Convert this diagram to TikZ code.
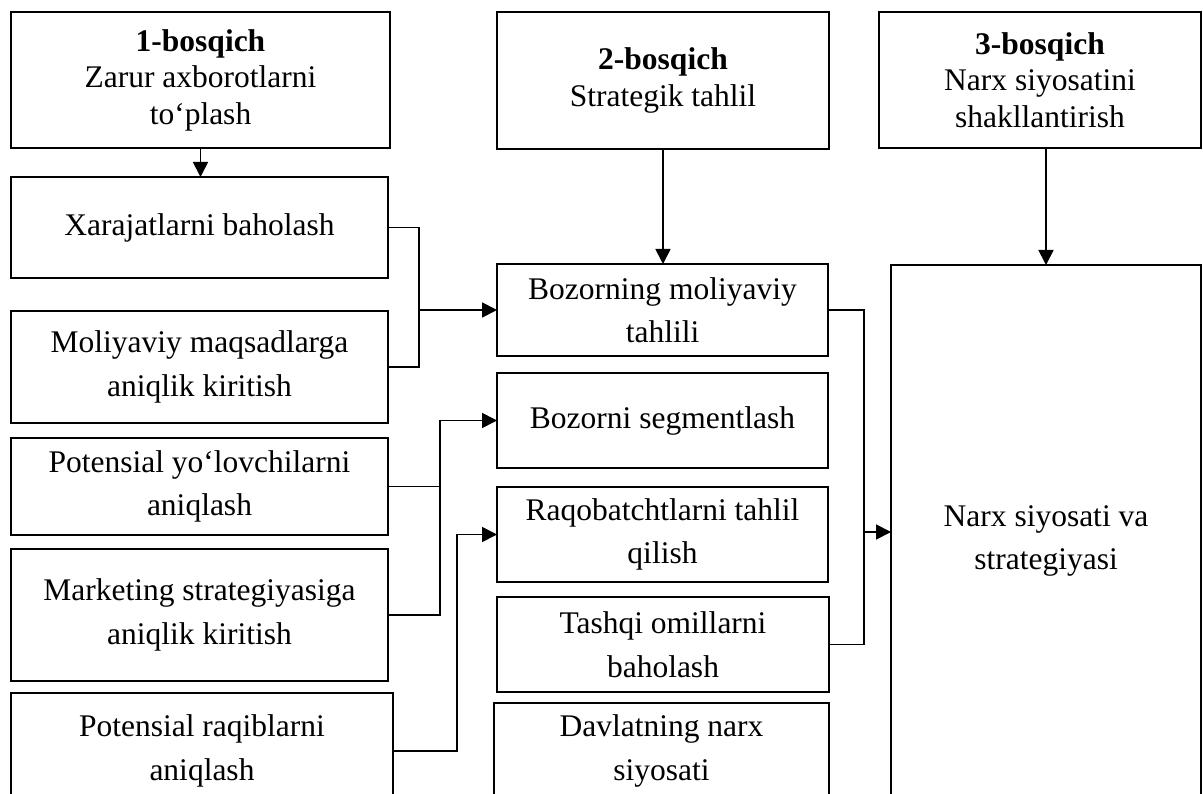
\documentclass[tikz,border=0pt]{standalone}
\usepackage{fontspec}
\setmainfont{Liberation Serif}
\usetikzlibrary{arrows.meta}
\begin{document}
\begin{tikzpicture}[x=1pt,y=-1pt,
  every node/.style={outer sep=0pt, inner sep=2pt, align=center},
  stagebox/.style={draw, line width=1.6pt, font=\fontsize{31.5}{36.5}\selectfont},
  itembox/.style={draw, line width=1.6pt, font=\fontsize{31.5}{43.5}\selectfont},
  link/.style={line width=1.8pt},
  arr/.style={link, -{Triangle[length=15pt,width=15pt]}}]
\useasboundingbox (0,0) rectangle (1203,794);
\clip (0,0) rectangle (1203,794);

% stage headers
\node[stagebox, minimum width=379pt, minimum height=136pt] (s1) at (200.5,80)
  {\textbf{1-bosqich}\\Zarur axborotlarni\\to‘plash};
\node[stagebox, minimum width=332pt, minimum height=137pt] (s2) at (663,80.5)
  {\textbf{2-bosqich}\\Strategik tahlil};
\node[stagebox, minimum width=322pt, minimum height=136pt] (s3) at (1040,80)
  {\textbf{3-bosqich}\\Narx siyosatini\\shakllantirish};

% stage 1 items
\node[itembox, minimum width=377pt, minimum height=101pt] (a1) at (199.5,227.5)
  {Xarajatlarni baholash};
\node[itembox, minimum width=377pt, minimum height=112pt] (a2) at (199.5,367)
  {Moliyaviy maqsadlarga\\aniqlik kiritish};
\node[itembox, minimum width=377pt, minimum height=97pt] (a3) at (199.5,486.5)
  {Potensial yo‘lovchilarni\\aniqlash};
\node[itembox, minimum width=377pt, minimum height=132pt] (a4) at (199.5,615)
  {Marketing strategiyasiga\\aniqlik kiritish};
\node[itembox, minimum width=382pt, minimum height=116pt] (a5) at (202,751)
  {Potensial raqiblarni\\aniqlash};

% stage 2 items
\node[itembox, minimum width=331pt, minimum height=92pt] (b1) at (662.5,310)
  {Bozorning moliyaviy\\tahlili};
\node[itembox, minimum width=331pt, minimum height=95pt] (b2) at (662.5,420.5)
  {Bozorni segmentlash};
\node[itembox, minimum width=331pt, minimum height=95pt] (b3) at (662.5,534.5)
  {Raqobatchtlarni tahlil\\qilish};
\node[itembox, minimum width=332pt, minimum height=95pt] (b4) at (663,644.5)
  {Tashqi omillarni\\baholash};
\node[itembox, minimum width=335pt, minimum height=96pt] (b5) at (661.5,751)
  {Davlatning narx\\siyosati};

% stage 3 result
\node[itembox, minimum width=310pt, minimum height=552pt] (c1) at (1046,541)
  {Narx siyosati va\\strategiyasi};

% junction points
\coordinate (j1) at (419,310);
\coordinate (j2) at (440,420.5);
\coordinate (j3) at (457,534.5);
\coordinate (j4) at (864,532);

% vertical arrows from the headers
\draw[arr] (s1.south) -- (s1.south |- a1.north);
\draw[arr] (s2.south) -- (s2.south |- b1.north);
\draw[arr] (c1.north |- s3.south) -- (c1.north);

% stage 1 to stage 2
\draw[link] (a1.east) -| (j1) |- (a2.east);
\draw[arr] (j1) -- (b1.west);
\draw[arr] (a4.east) -| (j2) -- (b2.west);
\draw[link] (a3.east) -- (a3.east -| j2);
\draw[arr] (a5.east) -| (j3) -- (b3.west);

% stage 2 to stage 3
\draw[link] (b1.east) -| (j4) |- (b4.east);
\draw[arr] (j4) -- (j4 -| c1.west);
\end{tikzpicture}
\end{document}
